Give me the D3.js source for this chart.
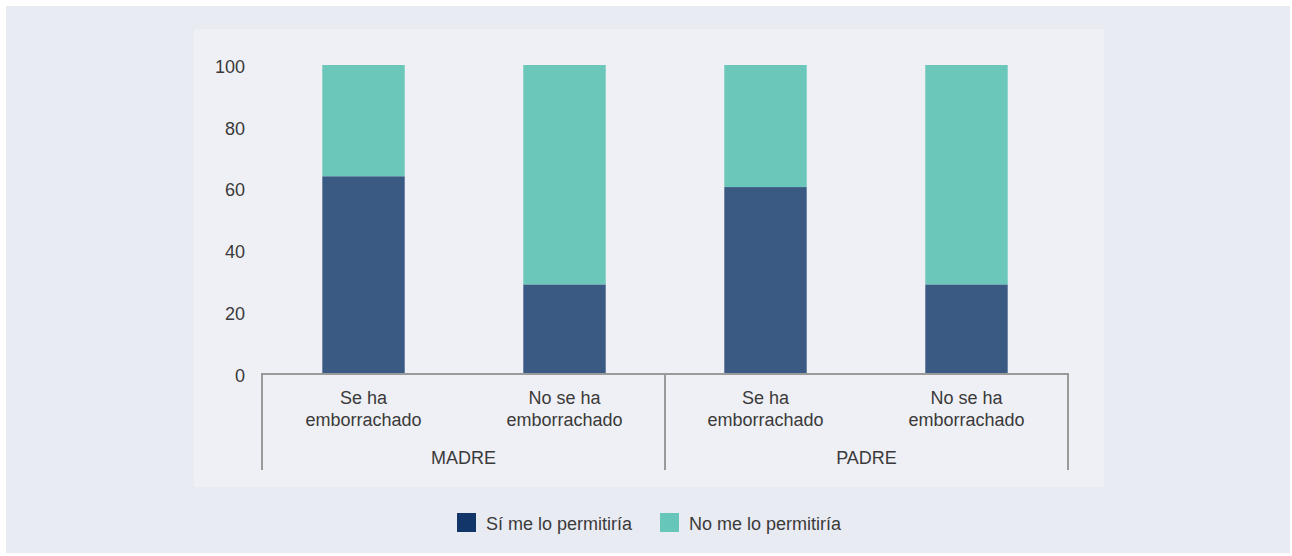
<!DOCTYPE html>
<html><head><meta charset="utf-8">
<script src="https://cdn.jsdelivr.net/npm/d3@7"></script>
<style>html,body{margin:0;padding:0;background:#fff;}svg{display:block;}</style>
</head><body>
<svg id="chart" width="1292" height="556"></svg>
<script>
const groups = ["MADRE", "PADRE"];
const categories = ["Se ha|emborrachado", "No se ha|emborrachado"];
const siPermitiria = [64, 29, 60.5, 29];
const noPermitiria = [36, 71, 39.5, 71];
const yTicks = [0, 20, 40, 60, 80, 100];
const seriesNames = ["Sí me lo permitiría", "No me lo permitiría"];
const colors = ["#3b5a83", "#6ac7ba"];
const legendColors = ["#12366a", "#66c6b9"];

const svg = d3.select("#chart");
const font = "'Liberation Sans', Arial, sans-serif";
const fs = 18;
svg.append("rect").attr("x", 6).attr("y", 6).attr("width", 1284).attr("height", 547).attr("fill", "#e9ebf3");
svg.append("rect").attr("x", 194).attr("y", 29).attr("width", 910).attr("height", 458).attr("fill", "#eff0f5");

const x0 = 262, x1 = 1068;
const keys = [];
groups.forEach(g => categories.forEach(c => keys.push(g + "/" + c)));
const x = d3.scaleBand().domain(keys).range([x0, x1]).paddingInner(0.59).paddingOuter(0.3);
const y = d3.scaleLinear().domain([0, 100]).range([374, 65]);

const data = keys.map((k, i) => ({key: k, si: siPermitiria[i], no: noPermitiria[i]}));
const stack = d3.stack().keys(["si", "no"])(data);
svg.append("g").selectAll("g").data(stack).join("g").attr("fill", (d, i) => colors[i])
  .selectAll("rect").data(d => d).join("rect")
  .attr("x", d => x(d.data.key)).attr("width", x.bandwidth())
  .attr("y", d => y(d[1])).attr("height", d => y(d[0]) - y(d[1]));

// y axis labels
const yAxis = svg.append("g").attr("transform", "translate(245,0)")
  .call(d3.axisLeft(y).tickValues(yTicks).tickSize(0).tickPadding(0));
yAxis.select(".domain").remove();
yAxis.selectAll("text").attr("font-family", font).attr("font-size", fs).attr("fill", "#3a3a3a").attr("dy", "0.4em");

// x axis lines
const lineColor = "#9a9a9a";
svg.append("line").attr("x1", x0).attr("x2", x1).attr("y1", 374).attr("y2", 374).attr("stroke", lineColor).attr("stroke-width", 2);
const gw = (x1 - x0) / groups.length;
d3.range(groups.length + 1).forEach(i => {
  svg.append("line").attr("x1", x0 + i * gw).attr("x2", x0 + i * gw).attr("y1", 373).attr("y2", 470)
    .attr("stroke", lineColor).attr("stroke-width", 2);
});
// category labels
keys.forEach((k, i) => {
  const lines = categories[i % categories.length].split("|");
  const t = svg.append("text").attr("x", x(k) + x.bandwidth() / 2).attr("y", 404)
    .attr("text-anchor", "middle").attr("font-family", font).attr("font-size", fs).attr("fill", "#3a3a3a");
  lines.forEach((l, j) => t.append("tspan").attr("x", x(k) + x.bandwidth() / 2).attr("dy", j ? 22 : 0).text(l));
});
groups.forEach((g, i) => {
  svg.append("text").attr("x", x0 + (i + 0.5) * gw).attr("y", 464).attr("text-anchor", "middle")
    .attr("font-family", font).attr("font-size", fs).attr("fill", "#3a3a3a").text(g);
});

// legend
const legX = [457, 660];
seriesNames.forEach((s, i) => {
  svg.append("rect").attr("x", legX[i]).attr("y", 513).attr("width", 19).attr("height", 19).attr("fill", legendColors[i]);
  svg.append("text").attr("x", legX[i] + 29).attr("y", 530).attr("font-family", font).attr("font-size", fs)
    .attr("fill", "#3a3a3a").text(s);
});
</script>
</body></html>
